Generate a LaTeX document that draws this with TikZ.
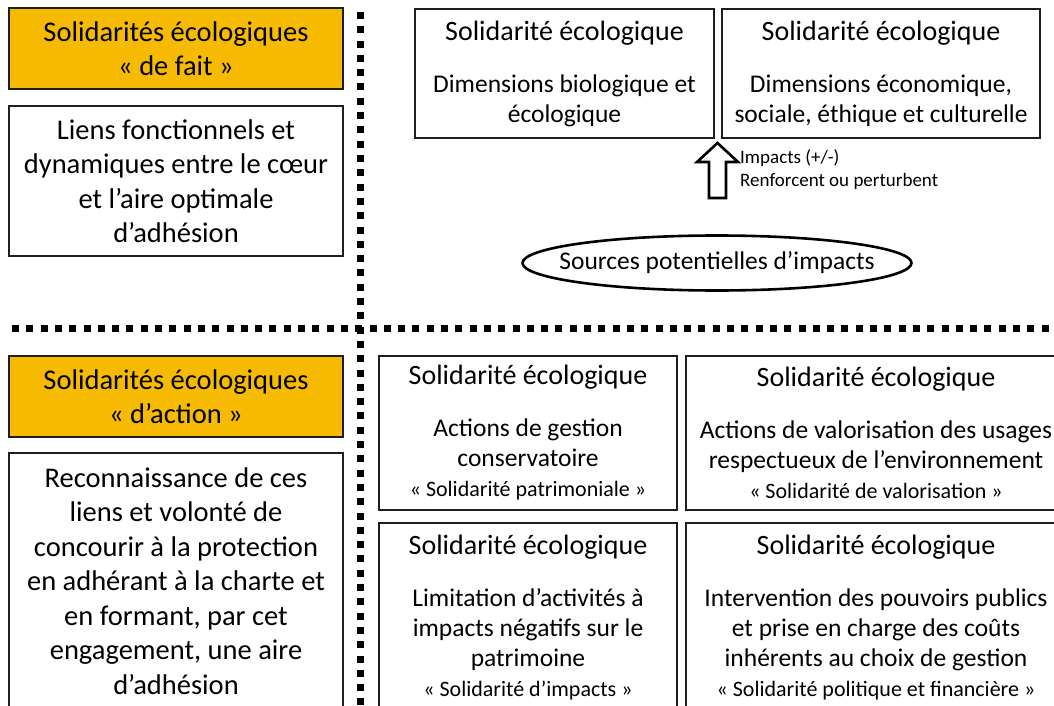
\documentclass[tikz,border=0pt]{standalone}
\usepackage{fontspec}
\setmainfont{Carlito}
\usetikzlibrary{shapes.geometric}
\definecolor{gold}{RGB}{246,187,0}
\definecolor{edge}{RGB}{30,30,30}
\newcommand{\soltitle}{{\fontsize{28}{30}\selectfont Solidarité écologique}}
\newcommand{\solname}[1]{{\fontsize{22}{30}\selectfont « #1 »}}

\begin{document}
\begin{tikzpicture}[x=1pt,y=-1pt,
      solbox/.style ={rectangle, draw=edge, line width=1.4pt, inner sep=0pt, align=center, font=\fontsize{25.5}{30}\selectfont},
      goldbox/.style ={solbox, fill=gold, minimum width=334pt, minimum height=81pt, font=\fontsize{28.5}{34}\selectfont},
      sidebox/.style ={solbox, minimum width=334pt, font=\fontsize{28.5}{34.5}\selectfont},
      dotline/.style ={line width=7pt, dash pattern=on 7pt off 7.3pt}]
   \useasboundingbox (0,0) rectangle (1054,706);
   \clip (0,0) rectangle (1054,706);
   % left column
   \node[goldbox] (fait) at (176,48.5) {Solidarités écologiques\\« de fait »};
   \node[sidebox, minimum height=150pt] (liens) at (176,181) {Liens fonctionnels et\\dynamiques entre le cœur\\et l’aire optimale\\d’adhésion};
   \node[goldbox] (action) at (176,396.5) {Solidarités écologiques\\« d’action »};
   \node[sidebox, minimum height=256pt] (reco) at (176,581) {Reconnaissance de ces\\liens et volonté de\\concourir à la protection\\en adhérant à la charte et\\en formant, par cet\\engagement, une aire\\d’adhésion};
   % separators
   \coordinate (vtop) at (360.5,12);
   \coordinate (vbot) at (360.5,710);
   \coordinate (hleft) at (12,328.5);
   \coordinate (hright) at (1060,328.5);
   \draw[dotline] (vtop) -- (vbot);
   \draw[dotline] (hleft) -- (hright);
   % top right
   \node[solbox, minimum width=299pt, minimum height=129pt] (bio) at (564.5,73.5) {\soltitle\\[22pt]Dimensions biologique et\\écologique};
   \node[solbox, minimum width=318pt, minimum height=129pt] (eco) at (881,73.5) {\soltitle\\[22pt]Dimensions économique,\\sociale, éthique et culturelle};
   \node[ellipse, draw=black, line width=2.6pt, inner xsep=-21pt, inner ysep=0pt, minimum width=389pt, minimum height=55pt, font=\fontsize{25.5}{28}\selectfont] (sources) at (717,263) {Sources potentielles d’impacts};
   \coordinate (tip) at (717.5,143);
   \draw[line width=2.6pt, line join=miter] (tip) -- ++(20.5,19) -- ++(-12,0) -- ++(0,36) -- ++(-17,0) -- ++(0,-36) -- ++(-12,0) -- cycle;
   \node[anchor=north west, align=left, inner sep=0pt, font=\fontsize{19}{23}\selectfont] (impacts) at (740,149) {Impacts (+/-)\\Renforcent ou perturbent};
   % bottom right
   \node[solbox, minimum width=298pt, minimum height=154pt] (gestion) at (528,433) {\soltitle\\[22pt]Actions de gestion\\conservatoire\\\solname{Solidarité patrimoniale}};
   \node[solbox, minimum width=380pt, minimum height=154pt] (valo) at (876,433) {\soltitle\\[22pt]Actions de valorisation des usages\\respectueux de l’environnement\\\solname{Solidarité de valorisation}};
   \node[solbox, minimum width=298pt, minimum height=189pt] (limit) at (528,617.5) {\soltitle\\[22pt]Limitation d’activités à\\impacts négatifs sur le\\patrimoine\\\solname{Solidarité d’impacts}};
   \node[solbox, minimum width=380pt, minimum height=189pt] (public) at (876,617.5) {\soltitle\\[22pt]Intervention des pouvoirs publics\\et prise en charge des coûts\\inhérents au choix de gestion\\\solname{Solidarité politique et financière}};
\end{tikzpicture}
\end{document}
